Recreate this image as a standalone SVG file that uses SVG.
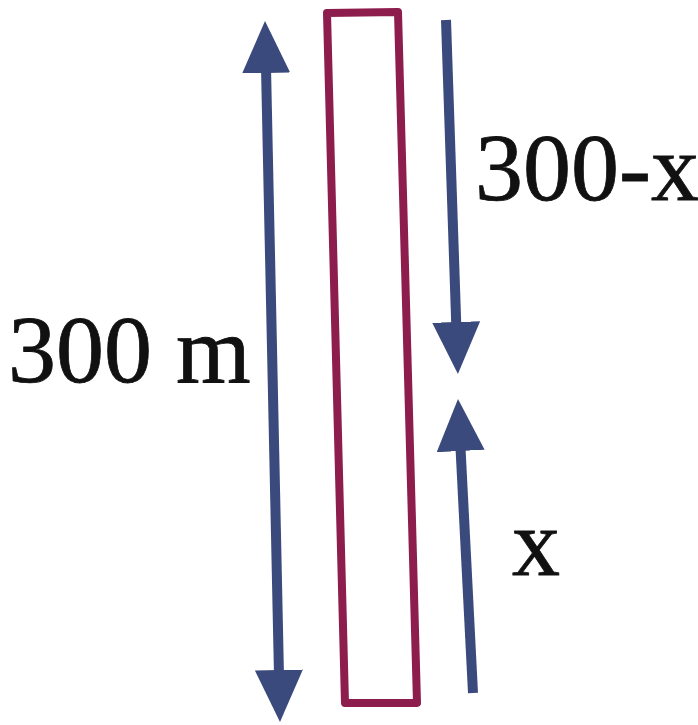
<svg xmlns="http://www.w3.org/2000/svg" width="698" height="725" viewBox="0 0 698 725">
  <defs>
    <style>
      .arrow { stroke: #3b4a7c; stroke-width: 10; fill: none; }
      .head { fill: #3b4a7c; }
      .bar { fill: none; stroke: #8c1d4c; stroke-width: 8; stroke-linejoin: round; }
      .lbl { font-family: "Liberation Serif", "Times New Roman", serif; fill: #111; stroke: #111; stroke-width: 0.8; font-size: 96px; }
    </style>
    <marker id="ah" viewBox="0 0 52 48" refX="1" refY="24" markerWidth="52" markerHeight="48" markerUnits="userSpaceOnUse" orient="auto-start-reverse">
      <path class="head" d="M0,0 L52,24 L0,48 Z"/>
    </marker>
  </defs>
  <rect width="698" height="725" fill="#ffffff"/>
  <g id="bar">
    <polygon class="bar" points="327,13 398,12 417,703 345,703"/>
  </g>
  <g id="connectors">
    <line class="arrow" x1="266.1" y1="72" x2="278.9" y2="671" marker-start="url(#ah)" marker-end="url(#ah)"/>
    <line class="arrow" x1="446" y1="20" x2="456.2" y2="323" marker-end="url(#ah)"/>
    <line class="arrow" x1="473" y1="693" x2="460.6" y2="450" marker-end="url(#ah)"/>
  </g>
  <g id="label-300m">
    <text class="lbl" x="8" y="382">300 m</text>
  </g>
  <g id="label-300-x">
    <text class="lbl" x="475" y="200">300-x</text>
  </g>
  <g id="label-x">
    <text class="lbl" x="512" y="575">x</text>
  </g>
</svg>
